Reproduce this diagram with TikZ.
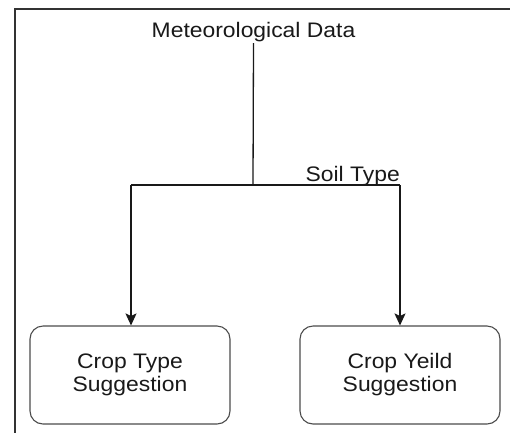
\documentclass[tikz,border=0pt]{standalone}
\usepackage{fontspec}
\setmainfont{Liberation Sans}[FakeStretch=1.09]
\usetikzlibrary{arrows.meta}
\begin{document}
\begin{tikzpicture}[x=1pt,y=-1pt,
  lbl/.style={font=\fontsize{21}{23}\selectfont, text=black!90, inner sep=0pt},
  stepbox/.style={draw=black!70, line width=1.1pt, rounded corners=13pt,
    minimum width=200pt, minimum height=98pt, align=center,
    font=\fontsize{21}{23}\selectfont, text=black!90, inner sep=0pt},
  conn/.style={line width=1.3pt, draw=black!90},
  arr/.style={conn, -{Stealth[length=12pt,width=11pt,inset=2.5pt]}}]
\useasboundingbox (0,0) rectangle (510,432);
\clip (0,0) rectangle (510,432);
\fill[white] (0,0) rectangle (510,432);
\draw[line width=1.5pt, draw=black!80] (15,9) rectangle (540,460);
\node[lbl, anchor=base] (met) at (253.5,37) {Meteorological Data};
\node[lbl, anchor=base east] (soil) at (400,181) {Soil Type};
\node[stepbox] (ct) at (130,375) {Crop Type\\Suggestion};
\node[stepbox] (cy) at (400,375) {Crop Yeild\\Suggestion};
\coordinate (j) at (253,185);
\coordinate (l) at (131,185);
\coordinate (r) at (400,185);
\draw[conn] ([yshift=-6pt]met.base) -- (j);
\draw[conn] (l) -- (r);
\draw[arr] (l) -- (l |- ct.north);
\draw[arr] (r) -- (cy.north);
\end{tikzpicture}
\end{document}
